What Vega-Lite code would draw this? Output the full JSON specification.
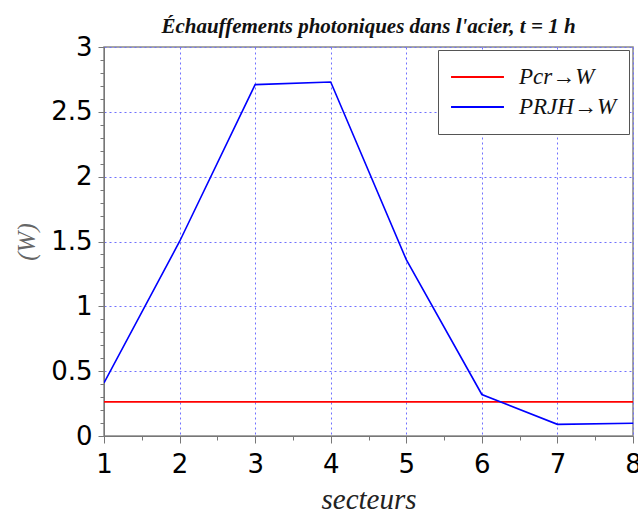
{
  "$schema": "https://vega.github.io/schema/vega-lite/v6.json",
  "autosize": {"type": "none"},
  "padding": {"left": 104, "top": 47, "right": 5, "bottom": 77},
  "width": 529,
  "height": 389,
  "background": "white",
  "title": {
    "text": "Échauffements photoniques dans l'acier,    t = 1 h",
    "font": "Liberation Serif",
    "fontStyle": "italic",
    "fontWeight": "bold",
    "fontSize": 21,
    "color": "#111111",
    "anchor": "middle",
    "frame": "group",
    "offset": -3
  },
  "config": {
    "view": {"stroke": "#888888", "strokeWidth": 1.5},
    "axis": {
      "domainColor": "#777777",
      "tickColor": "#777777",
      "labelFont": "DejaVu Sans",
      "labelFontSize": 26,
      "labelColor": "#000000",
      "titleFont": "Liberation Serif",
      "titleFontStyle": "italic",
      "titleFontWeight": "normal",
      "gridColor": "#7070ff",
      "gridDash": [2, 3],
      "gridWidth": 1
    }
  },
  "data": {
    "values": [
      {"secteur": 1, "P": 0.263, "serie": "Pcr→W"},
      {"secteur": 2, "P": 0.263, "serie": "Pcr→W"},
      {"secteur": 3, "P": 0.263, "serie": "Pcr→W"},
      {"secteur": 4, "P": 0.263, "serie": "Pcr→W"},
      {"secteur": 5, "P": 0.263, "serie": "Pcr→W"},
      {"secteur": 6, "P": 0.263, "serie": "Pcr→W"},
      {"secteur": 7, "P": 0.263, "serie": "Pcr→W"},
      {"secteur": 8, "P": 0.263, "serie": "Pcr→W"},
      {"secteur": 1, "P": 0.41, "serie": "PRJH→W"},
      {"secteur": 2, "P": 1.5, "serie": "PRJH→W"},
      {"secteur": 3, "P": 2.71, "serie": "PRJH→W"},
      {"secteur": 4, "P": 2.73, "serie": "PRJH→W"},
      {"secteur": 5, "P": 1.36, "serie": "PRJH→W"},
      {"secteur": 6, "P": 0.32, "serie": "PRJH→W"},
      {"secteur": 7, "P": 0.09, "serie": "PRJH→W"},
      {"secteur": 8, "P": 0.098, "serie": "PRJH→W"}
    ]
  },
  "mark": {"type": "line", "strokeWidth": 1.6, "clip": true},
  "encoding": {
    "x": {
      "field": "secteur",
      "type": "quantitative",
      "scale": {"domain": [1, 8], "nice": false, "zero": false},
      "axis": {
        "title": "secteurs",
        "titleFontSize": 29,
        "titleColor": "#222222",
        "titlePadding": 8,
        "values": [1, 1.5, 2, 2.5, 3, 3.5, 4, 4.5, 5, 5.5, 6, 6.5, 7, 7.5, 8],
        "format": "~g",
        "labelExpr": "datum.value % 1 === 0 ? datum.label : ''",
        "tickSize": {"condition": {"test": "datum.value % 1 === 0", "value": 7}, "value": 4},
        "gridOpacity": {"condition": {"test": "datum.value % 1 === 0", "value": 1}, "value": 0},
        "labelPadding": 8,
        "labelFlush": false
      }
    },
    "y": {
      "field": "P",
      "type": "quantitative",
      "scale": {"domain": [0, 3], "nice": false},
      "axis": {
        "title": "(W)",
        "titleFontSize": 25,
        "titleColor": "#666666",
        "titlePadding": 11,
        "values": [0, 0.1, 0.2, 0.3, 0.4, 0.5, 0.6, 0.7, 0.8, 0.9, 1, 1.1, 1.2, 1.3, 1.4, 1.5, 1.6, 1.7, 1.8, 1.9, 2, 2.1, 2.2, 2.3, 2.4, 2.5, 2.6, 2.7, 2.8, 2.9, 3],
        "format": "~g",
        "labelExpr": "abs(datum.value * 2 - round(datum.value * 2)) < 0.001 ? datum.label : ''",
        "tickSize": {"condition": {"test": "abs(datum.value * 2 - round(datum.value * 2)) < 0.001", "value": 6}, "value": 4},
        "gridOpacity": {"condition": {"test": "abs(datum.value * 2 - round(datum.value * 2)) < 0.001", "value": 1}, "value": 0},
        "labelPadding": 6,
        "labelFlush": false
      }
    },
    "color": {
      "field": "serie",
      "type": "nominal",
      "scale": {"domain": ["Pcr→W", "PRJH→W"], "range": ["#ff0000", "#0000ff"]},
      "legend": {
        "title": null,
        "orient": "none",
        "legendX": 334,
        "legendY": 3,
        "fillColor": "white",
        "strokeColor": "#555555",
        "padding": 12,
        "symbolType": "stroke",
        "symbolStrokeWidth": 2,
        "symbolSize": 2800,
        "labelFont": "Liberation Serif",
        "labelFontStyle": "italic",
        "labelFontSize": 23,
        "labelColor": "#111111",
        "labelOffset": 14,
        "clipHeight": 30,
        "rowPadding": 0
      }
    }
  }
}
